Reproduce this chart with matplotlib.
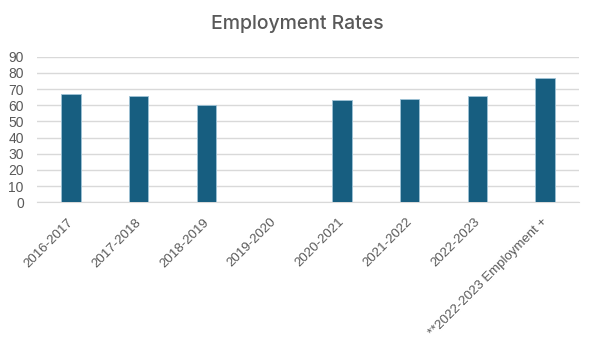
import numpy as np
import matplotlib
matplotlib.use("Agg")
import matplotlib.pyplot as plt
import matplotlib.transforms as mtransforms

categories = ["2016-2017", "2017-2018", "2018-2019", "2019-2020", "2020-2021",
              "2021-2022", "2022-2023", "**2022-2023 Employment +"]
values = [67, 66, 60, np.nan, 63, 64, 66, 77]
yticks = [0, 10, 20, 30, 40, 50, 60, 70, 80, 90]

plt.rcParams['font.family'] = ['Liberation Sans', 'DejaVu Sans']

fig = plt.figure(figsize=(5.91, 3.53), dpi=100)
ax = fig.add_axes([37/591, 1 - 202.3/353, (579 - 37)/591, (202.3 - 56.7)/353])

x = np.arange(len(categories))
ax.bar(x, values, width=0.29, color="#175E80", edgecolor="#9fc3d6", linewidth=0.6, zorder=3)

ax.set_xlim(-0.5, len(categories) - 0.5)
ax.set_ylim(0, 90)
ax.set_yticks(yticks)
ax.set_yticklabels([str(v) for v in yticks], fontsize=10, color="#595959")
ax.set_xticks(x)
ax.set_xticklabels(categories, rotation=45, ha="right", va="center",
                   rotation_mode="anchor", fontsize=9.5, color="#595959")
ax.tick_params(axis='both', length=0)
ax.tick_params(axis='y', pad=9.5)
ax.tick_params(axis='x', pad=13)
offset = mtransforms.ScaledTranslation(0.5/100, 0, fig.dpi_scale_trans)
for lbl in ax.get_xticklabels():
    lbl.set_transform(lbl.get_transform() + offset)
ax.grid(axis='y', color="#d9d9d9", linewidth=1, zorder=0)
for s in ["top", "right", "left"]:
    ax.spines[s].set_visible(False)
ax.spines["bottom"].set_color("#d9d9d9")

fig.text(297/591, 1 - 24/353, "Employment Rates", ha="center", va="center",
         fontsize=14, fontweight="medium", color="#595959",
         family=['Inter', 'DejaVu Sans'])

fig.savefig("out.png", dpi=100)
